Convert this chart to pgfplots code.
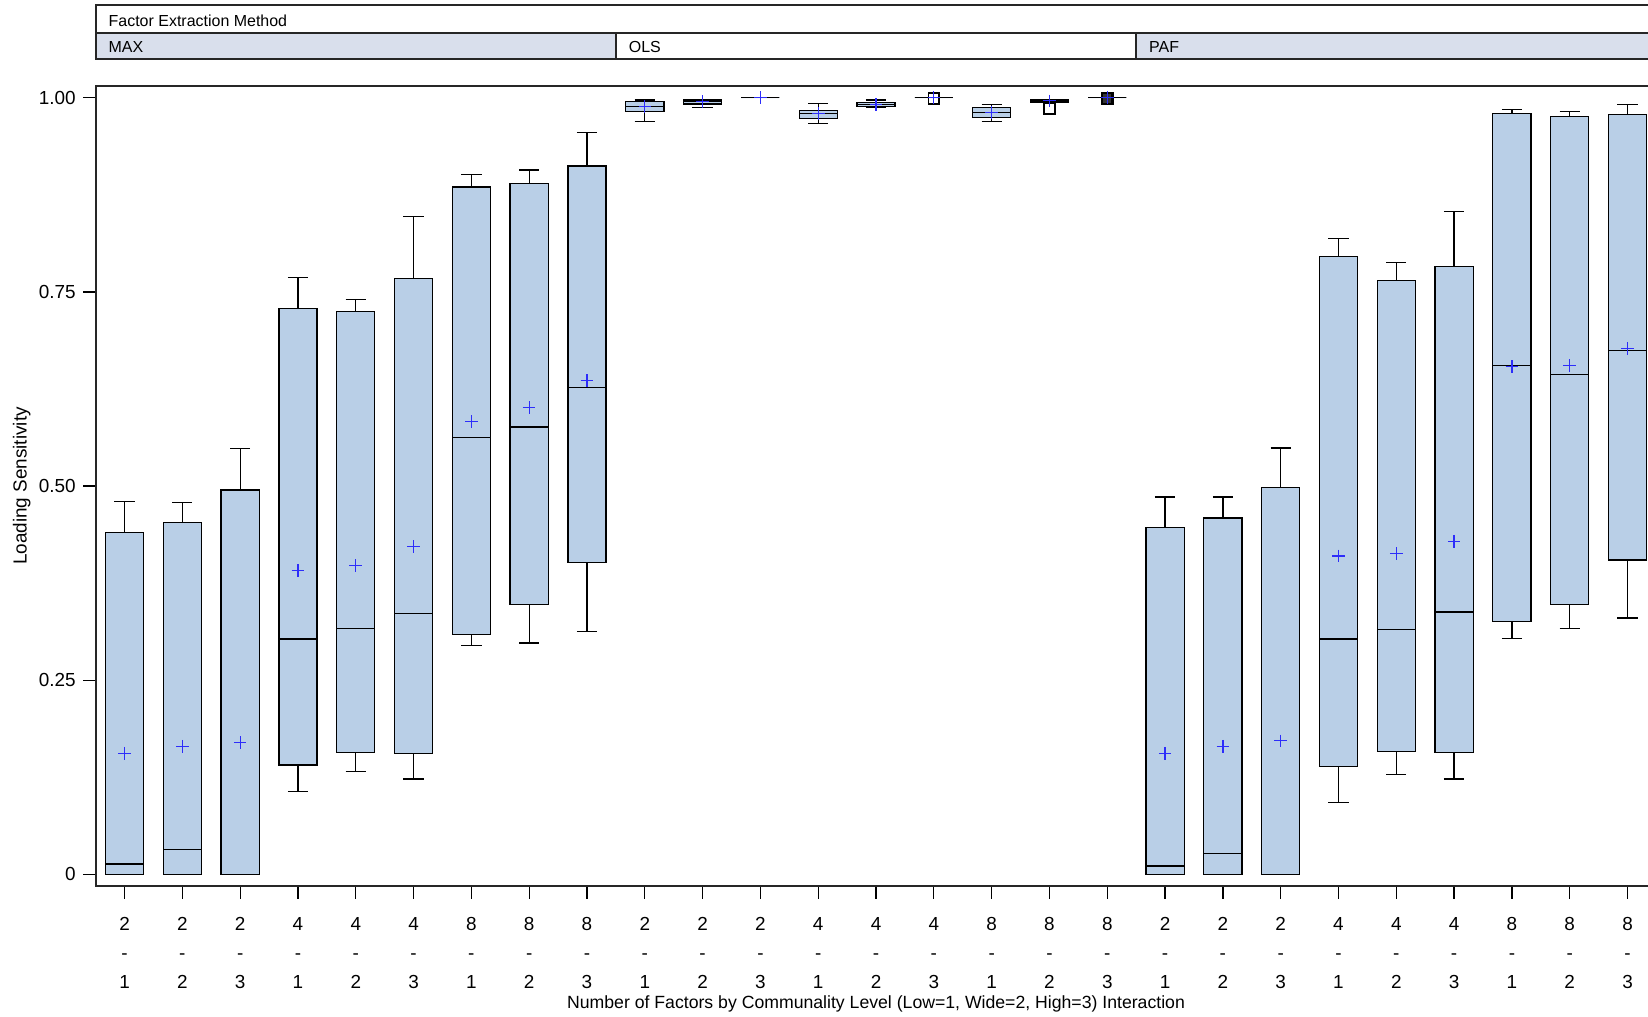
\documentclass[border=0pt]{standalone}
\usepackage{pgfplots}
\pgfplotsset{compat=1.18}
\usepgfplotslibrary{statistics}
\usepackage{fontspec}
\setmainfont{Liberation Sans}
\definecolor{boxfill}{RGB}{185,207,231}
\definecolor{hdrfill}{RGB}{217,223,236}
\definecolor{meanblue}{RGB}{45,45,250}
\pgfplotsset{bxs/.style={draw=black, fill=boxfill, line width=0.6pt, solid, mark=none}}
\newcommand{\bx}[6]{\addplot[bxs, boxplot/draw direction=y, boxplot prepared={draw position=#1, lower whisker=#2, lower quartile=#3, median=#4, upper quartile=#5, upper whisker=#6, box extend=0.66, whisker extend=0.35}] coordinates {};}
\begin{document}
\begin{tikzpicture}
\begin{axis}[
  scale only axis, width=742.5pt, height=380.5pt,
  xmin=-0.5, xmax=26.5, ymin=-0.0149, ymax=1.0149,
  clip=false,
  boxplot/draw direction=y,
  axis line style={line width=1pt, draw=black!85},
  tick pos=left, tick align=outside,
  major tick length=6pt,
  tick style={line width=0.6pt, black},
  xtick={0,...,26},
  xticklabels={{2\\-\\1},{2\\-\\2},{2\\-\\3},{4\\-\\1},{4\\-\\2},{4\\-\\3},{8\\-\\1},{8\\-\\2},{8\\-\\3},
               {2\\-\\1},{2\\-\\2},{2\\-\\3},{4\\-\\1},{4\\-\\2},{4\\-\\3},{8\\-\\1},{8\\-\\2},{8\\-\\3},
               {2\\-\\1},{2\\-\\2},{2\\-\\3},{4\\-\\1},{4\\-\\2},{4\\-\\3},{8\\-\\1},{8\\-\\2},{8\\-\\3}},
  xticklabel style={align=center, font=\fontsize{9}{13.8}\selectfont, yshift=-5.5pt},
  ytick={0,0.25,0.5,0.75,1},
  yticklabels={0,0.25,0.50,0.75,1.00},
  yticklabel style={font=\fontsize{9}{11}\selectfont},
  xlabel={Number of Factors by Communality Level (Low=1, Wide=2, High=3) Interaction},
  ylabel={Loading Sensitivity},
  label style={font=\fontsize{8.4}{10}\selectfont},
  xlabel style={yshift=3.5pt},
  ylabel style={font=\fontsize{9}{11}\selectfont},
  ylabel shift=-3pt,
]
% header
\fill[hdrfill] (axis cs:-0.5,1.0501) rectangle (axis cs:8.5,1.0839);
\fill[hdrfill] (axis cs:17.5,1.0501) rectangle (axis cs:26.5,1.0839);
\draw[line width=0.9pt, black!85] (axis cs:-0.5,1.0501) rectangle (axis cs:26.5,1.1191);
\draw[line width=0.9pt, black!85] (axis cs:-0.5,1.0839) -- (axis cs:26.5,1.0839);
\draw[line width=0.9pt, black!85] (axis cs:8.5,1.0501) -- (axis cs:8.5,1.0839);
\draw[line width=0.9pt, black!85] (axis cs:17.5,1.0501) -- (axis cs:17.5,1.0839);
\node[anchor=west, font=\fontsize{7.6}{9}\selectfont, inner sep=0pt] at (axis cs:-0.5,1.0995) {\hspace*{6pt}Factor Extraction Method};
\node[anchor=west, font=\fontsize{7.6}{9}\selectfont, inner sep=0pt] at (axis cs:-0.5,1.0650) {\hspace*{6pt}MAX};
\node[anchor=west, font=\fontsize{7.6}{9}\selectfont, inner sep=0pt] at (axis cs:8.5,1.0650) {\hspace*{6pt}OLS};
\node[anchor=west, font=\fontsize{7.6}{9}\selectfont, inner sep=0pt] at (axis cs:17.5,1.0650) {\hspace*{6pt}PAF};
\coordinate (sw) at (rel axis cs:0,0);
% MAX
\bx{0}{0}{0}{0.0135}{0.440}{0.480}
\bx{1}{0}{0}{0.032}{0.453}{0.479}
\bx{2}{0}{0}{0.0}{0.495}{0.548}
\bx{3}{0.107}{0.141}{0.303}{0.729}{0.769}
\bx{4}{0.133}{0.157}{0.317}{0.725}{0.740}
\bx{5}{0.123}{0.156}{0.336}{0.767}{0.847}
\bx{6}{0.295}{0.309}{0.563}{0.885}{0.901}
\bx{7}{0.298}{0.348}{0.576}{0.890}{0.907}
\bx{8}{0.313}{0.402}{0.627}{0.912}{0.955}
% OLS
\bx{9}{0.969}{0.982}{0.989}{0.995}{0.997}
\bx{10}{0.987}{0.992}{0.995}{0.997}{0.998}
\bx{11}{1.0}{1.0}{1.0}{1.0}{1.0}
\bx{12}{0.967}{0.973}{0.980}{0.984}{0.993}
\bx{13}{0.987}{0.989}{0.991}{0.994}{0.997}
\bx{14}{1.0}{1.0}{1.0}{1.0}{1.0}
\bx{15}{0.969}{0.975}{0.981}{0.987}{0.991}
\bx{16}{0.994}{0.994}{0.995}{0.997}{0.998}
\bx{17}{1.0}{1.0}{1.0}{1.0}{1.0}
% PAF
\bx{18}{0}{0}{0.011}{0.447}{0.486}
\bx{19}{0}{0}{0.027}{0.459}{0.486}
\bx{20}{0}{0}{0.0}{0.498}{0.549}
\bx{21}{0.093}{0.139}{0.303}{0.796}{0.819}
\bx{22}{0.129}{0.158}{0.315}{0.765}{0.788}
\bx{23}{0.123}{0.157}{0.338}{0.783}{0.854}
\bx{24}{0.304}{0.326}{0.655}{0.980}{0.985}
\bx{25}{0.317}{0.348}{0.644}{0.976}{0.982}
\bx{26}{0.330}{0.405}{0.675}{0.978}{0.991}
% outliers
\addplot[only marks, mark=square, mark size=2.6pt, mark options={draw=black, line width=0.8pt, fill=white}] coordinates {(14,0.999) (16,0.986)};
\addplot[only marks, mark=square*, mark size=2.6pt, mark options={draw=black, line width=1.2pt, fill=black!80}] coordinates {(17,0.999)};
% means
\addplot[only marks, mark=+, mark size=3pt, mark options={draw=meanblue, line width=0.6pt}] coordinates {
(0,0.156) (1,0.165) (2,0.170) (3,0.391) (4,0.398) (5,0.422) (6,0.583) (7,0.601) (8,0.636)
(9,0.989) (10,0.995) (11,1.0) (12,0.980) (13,0.991) (14,1.0) (15,0.981) (16,0.996) (17,1.0)
(18,0.156) (19,0.165) (20,0.172) (21,0.410) (22,0.413) (23,0.429) (24,0.654) (25,0.655) (26,0.677)};
\end{axis}
\pgfresetboundingbox
\path[use as bounding box] ([shift={(-45.5pt,-62pt)}]sw) rectangle ([shift={(738.5pt,421.5pt)}]sw);
\end{tikzpicture}
\end{document}
